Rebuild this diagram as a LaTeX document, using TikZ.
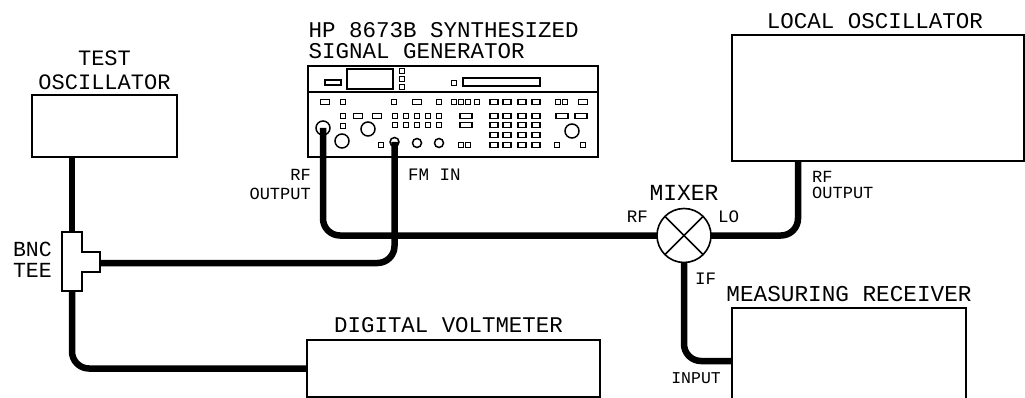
\documentclass[tikz,border=0pt]{standalone}
\usepackage{fontspec}
\usepackage{tikz}
\usetikzlibrary{positioning, calc}
\newfontfamily\plotfont{Liberation Mono}

\begin{document}
\begin{tikzpicture}[
    x=1pt, y=-1pt,
    instrument/.style={rectangle, draw=black, line width=2.6pt, fill=white, outer sep=0pt},
    cable/.style={line width=6.5pt, rounded corners=17pt},
    panel/.style={draw=black, line width=1.1pt},
    title/.style={font=\plotfont\fontsize{#1}{#1}\selectfont, inner sep=0pt, align=center},
    tag/.style={font=\plotfont\fontsize{#1}{#1}\selectfont, inner sep=0pt, align=center}
]
    \clip (0,0) rectangle (1025,398);
    \fill[white] (0,0) rectangle (1025,398);

    % instruments
    \node[instrument, minimum width=145pt, minimum height=62pt] (test) at (104.5,126) {};
    \node[instrument, minimum width=290pt, minimum height=91pt] (gen) at (453,111.5) {};
    \node[instrument, minimum width=292pt, minimum height=126pt] (lo) at (878,98) {};
    \node[instrument, minimum width=293pt, minimum height=57pt] (dvm) at (453.5,368.5) {};
    \node[instrument, minimum width=234pt, minimum height=120pt] (recv) at (849,368) {};
    \node[circle, draw=black, line width=1.6pt, fill=white, minimum size=54pt, inner sep=0pt, outer sep=0pt] (mixer) at (684,235.5) {};
    \draw[line width=1.6pt] (mixer.45) -- (mixer.225);
    \draw[line width=1.6pt] (mixer.135) -- (mixer.315);

    % titles
    \node[title=22, above=5pt of test] (testlabel) {TEST\\[2pt]OSCILLATOR};
    \node[title=22.5, above right=7pt and 0.5pt of gen.north west, align=left] (genlabel) {HP 8673B SYNTHESIZED\\[-1.5pt]SIGNAL GENERATOR};
    \node[title=22.5, above=6pt of lo, xshift=-3pt] (lolabel) {LOCAL OSCILLATOR};
    \node[title=22.4, above=7pt of dvm, xshift=-5pt] (dvmlabel) {DIGITAL VOLTMETER};
    \node[title=22.7, above=6pt of recv] (recvlabel) {MEASURING RECEIVER};

    % front panel of the generator
    \coordinate (divider) at (0,92);
    \draw[panel] (gen.west |- divider) -- (gen.east |- divider);
    \draw[panel] (325,80) rectangle (341,85);
    \draw[panel] (347,69) rectangle (393,89);
    \draw[panel] (463,78) rectangle (540,86);
    \foreach \x/\y in {402/71, 402/79, 402/87, 454/83,
        343/102, 394/102, 439/102, 454/102, 461/102, 468/102, 477/102, 558/102, 565/102,
        343/116, 395/116, 406/116, 417/116, 428/116, 439/116,
        343/126, 395/125, 406/125, 417/125, 428/125, 439/125,
        381/145, 461/145, 468/145, 557/145, 583/145}
        \draw[panel] (\x-2.5,\y-2.5) rectangle (\x+2.5,\y+2.5);
    \foreach \x/\y in {325/102, 417/102, 583/102, 358/116, 377/116}
        \draw[panel] (\x-4.5,\y-2.5) rectangle (\x+4.5,\y+2.5);
    \foreach \y in {102, 116, 125, 135, 145}
        \foreach \x in {494, 507, 522, 536}
            \draw[panel] (\x-4,\y-2.5) rectangle (\x+4,\y+2.5);
    \foreach \x/\y in {466/116, 466/125, 562/116, 581/116}
        \draw[panel] (\x-6,\y-2.5) rectangle (\x+6,\y+2.5);
    \foreach \x/\y/\r in {342/141/7, 368/129/7, 417/143/4.5, 439/143/4.5, 572/131/7}
        \draw[panel, line width=1.5pt] (\x,\y) circle (\r);
    \node[circle, draw=black, line width=1.5pt, minimum size=14pt, inner sep=0pt] (rfport) at (323,128) {};
    \node[circle, draw=black, line width=1.5pt, minimum size=9pt, inner sep=0pt] (fmport) at (394.5,142) {};

    % tee
    \coordinate (teetop) at (72,232);
    \coordinate (teebot) at (72,291);
    \coordinate (teearm) at (100,263);
    \coordinate (teeside) at (62,260);
    \coordinate (lodrop) at (798,0);
    \coordinate (recvin) at (0,361);
    \draw[line width=2.2pt, fill=white] (62,232) -- (82,232) -- (82,252) -- (100,252) -- (100,272)
        -- (82,272) -- (82,291) -- (62,291) -- cycle;
    \node[tag=21.5, left=10pt of teeside, align=right] (teelabel) {BNC\\TEE};

    % cables
    \draw[cable] (rfport.center) |- (mixer.west);
    \draw[cable] (fmport.center) |- (teearm);
    \draw[cable, rounded corners=0pt] (test.south -| teetop) -- (teetop);
    \draw[cable] (teebot) |- (dvm.west);
    \draw[cable] (lo.south -| lodrop) |- (mixer.east);
    \draw[cable] (mixer.south) |- (recv.west |- recvin);

    % port labels
    \node[tag=17, anchor=east, align=right] (rflabel) at (311,184) {RF\\[2pt]OUTPUT};
    \node[tag=17.5, anchor=west] (fmlabel) at (408,175) {FM IN};
    \node[tag=23, above=8pt of mixer] (mixerlabel) {MIXER};
    \node[tag=17.5, anchor=east] (rfin) at (648,217) {RF};
    \node[tag=17.5, anchor=west] (loin) at (718,217) {LO};
    \node[tag=17.5, anchor=west] (ifout) at (695,279) {IF};
    \node[tag=17, anchor=west, align=left] (lorf) at (812,185) {RF\\[-1pt]OUTPUT};
    \node[tag=16.5, anchor=east] (inputlabel) at (721,378) {INPUT};
\end{tikzpicture}
\end{document}
